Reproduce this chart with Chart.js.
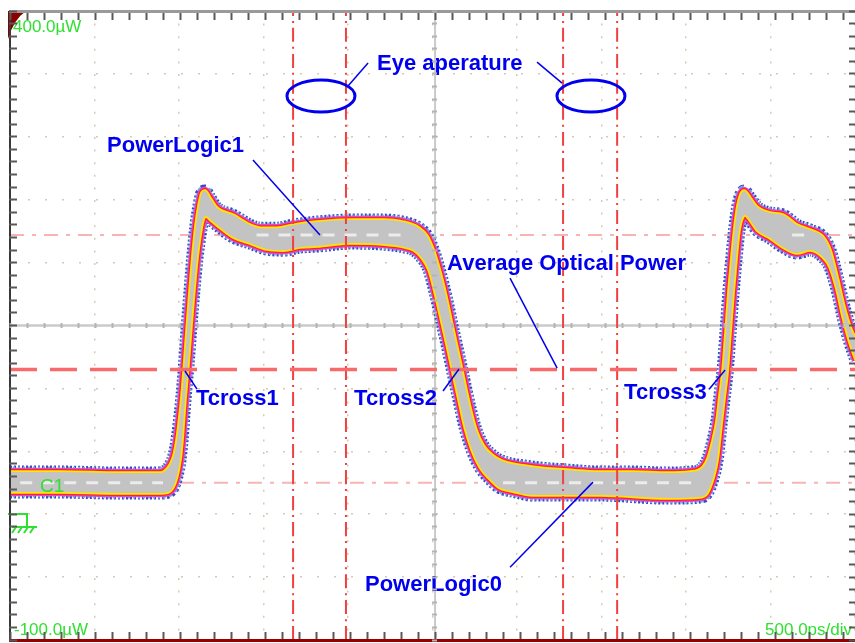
<!DOCTYPE html>
<html>
<head>
<meta charset="utf-8">
<script src="https://cdn.jsdelivr.net/npm/chart.js@4.4.1/dist/chart.umd.min.js"></script>
<style>
  html, body { margin: 0; padding: 0; background: #fff; }
</style>
</head>
<body>
<canvas id="scope" width="855" height="643"></canvas>
<script>
// time axis in ps (500 ps/div), power axis in µW (50 µW/div)
const timeMax = 4970;
const powerMin = -100;
const powerMax = 400;

// grey envelope of the trace: top edge
const upperEdgePs = [0, 294, 647, 882, 912, 941, 965, 982, 1000, 1012, 1024, 1041, 1059, 1076, 1094, 1112, 1129, 1147, 1176, 1218,
  1312, 1412, 1471, 1571, 1665, 1806, 2000, 2194, 2312, 2406, 2453, 2494, 2529, 2565, 2600, 2635, 2670, 2706, 2741, 2782,
  2835, 2894, 3076, 3276, 3471, 3665, 3865, 4000, 4076, 4106, 4135, 4159, 4176, 4194, 4212, 4229, 4247, 4265, 4282, 4300,
  4318, 4353, 4394, 4471, 4547, 4629, 4706, 4782, 4823, 4865, 4900, 4941, 4976];
const upperEdgeUw = [33.5, 33.5, 32.7, 32.7, 34.3, 39.0, 47.0, 58.9, 78.8, 94.7, 114.5, 146.4, 178.2, 206.0, 229.8, 245.7, 255.3, 256.9, 251.3, 243.3,
  237.8, 229.8, 227.4, 227.4, 229.8, 232.2, 233.8, 233.8, 232.2, 227.4, 221.1, 208.4, 192.5, 172.6, 150.3, 128.9, 106.6, 84.3, 66.9, 54.9,
  47.0, 42.2, 37.4, 35.1, 33.5, 33.5, 32.7, 33.5, 37.4, 44.6, 58.9, 74.8, 94.7, 114.6, 146.3, 178.2, 206.0, 229.8, 245.7, 254.5,
  256.9, 251.3, 244.1, 239.4, 237.8, 229.8, 225.9, 220.3, 210.0, 188.5, 167.8, 148.8, 138.4];

// grey envelope of the trace: bottom edge
const lowerEdgePs = [0, 294, 647, 882, 929, 959, 982, 1000, 1012, 1029, 1047, 1065, 1082, 1100, 1118, 1135, 1153, 1176, 1218, 1312,
  1412, 1512, 1606, 1706, 1806, 2000, 2194, 2323, 2376, 2424, 2465, 2500, 2535, 2571, 2606, 2641, 2676, 2718, 2765, 2818,
  2876, 2953, 3076, 3471, 3865, 4059, 4100, 4135, 4159, 4182, 4200, 4218, 4235, 4253, 4271, 4288, 4306, 4324, 4353, 4394,
  4471, 4547, 4629, 4706, 4782, 4823, 4865, 4900, 4941, 4976];
const lowerEdgeUw = [17.6, 17.6, 16.8, 16.8, 17.6, 21.5, 30.3, 43.0, 58.9, 90.7, 118.5, 150.3, 178.2, 203.6, 221.9, 233.8, 237.0, 234.6, 229.8, 220.3,
  215.5, 210.7, 209.9, 212.3, 213.1, 215.5, 214.7, 212.3, 209.9, 203.6, 194.0, 176.6, 155.9, 134.4, 112.2, 90.7, 69.2, 51.0, 37.4, 28.7,
  21.5, 18.4, 15.2, 15.2, 12.8, 13.6, 16.8, 28.7, 43.0, 70.8, 92.3, 113.0, 144.0, 175.8, 203.6, 225.8, 235.4, 237.8, 233.8, 225.9,
  219.5, 212.3, 207.6, 210.0, 204.4, 196.4, 178.1, 156.7, 136.0, 122.5];

// measurement levels (µW) and eye cursors (ps)
const powerLogic1 = 222;
const powerLogic0 = 25;
const averageOpticalPower = 115;
const eyeCursorsPs = [1665, 1976, 3253, 3571];
const centreTimePs = 2500;
const centrePowerUw = 150;

// stretches where the level markers run inside the grey band (ps)
const logic1Spans = [[1450, 2350], [4600, 4720]];
const logic0Spans = [[60, 900], [2900, 4050]];

// callouts: text anchor and leader lines, in ps / µW
const callouts = [
  { text: 'Eye aperature', x: 2159, y: 353, leaders: [[2106, 358.6, 1988, 340.3], [3100, 359.4, 3247, 342.7]] },
  { text: 'PowerLogic1', x: 571, y: 288, leaders: [[1429, 281.5, 1823, 221.9]] },
  { text: 'Average Optical Power', x: 2571, y: 194, leaders: [[2941, 187.7, 3218, 116.1]] },
  { text: 'Tcross1', x: 1094, y: 86.7, leaders: [[1029, 113.8, 1100, 99.4]] },
  { text: 'Tcross2', x: 2024, y: 86.7, leaders: [[2641, 115.4, 2547, 97.9]] },
  { text: 'Tcross3', x: 3612, y: 91.5, leaders: [[4206, 114.6, 4112, 99.4]] },
  { text: 'PowerLogic0', x: 2088, y: -61.1, leaders: [[3429, 25.5, 2941, -42.1]] },
];
const eyeMarks = [[1829, 332.4], [3417, 332.4]];
const eyeMarkRadius = [200, 12.7];

const toPoints = (xs, ys) => xs.map((v, i) => ({ x: v, y: ys[i] }));
const hLine = (y) => [{ x: 0, y }, { x: timeMax, y }];
const vLine = (x) => [{ x, y: powerMin }, { x, y: powerMax }];
const spans = (list, y) => {
  const out = [];
  list.forEach(([a, b]) => { out.push({ x: a, y }, { x: b, y }, { x: b, y: null }); });
  return out;
};

const upperPts = toPoints(upperEdgePs, upperEdgeUw);
const lowerPts = toPoints(lowerEdgePs, lowerEdgeUw);

function line(data, color, width, order, dash, extra) {
  return Object.assign({
    data, borderColor: color, borderWidth: width, order,
    borderDash: dash || [], pointRadius: 0, fill: false, clip: 0,
    cubicInterpolationMode: 'monotone', spanGaps: false,
  }, extra || {});
}

const datasets = [
  // grey body of the trace (filled between the two edges)
  line(upperPts, 'rgba(0,0,0,0)', 0, 50, null, { fill: '+1', backgroundColor: '#c3c3c3' }),
  line(lowerPts, 'rgba(0,0,0,0)', 0, 51),
];
// persistence colours along both edges
[upperPts, lowerPts].forEach((pts) => {
  datasets.push(line(pts, '#4646b8', 13, 90, [2, 2]));
  datasets.push(line(pts, '#46c6ee', 11, 89, [2, 3], { borderDashOffset: 2 }));
  datasets.push(line(pts, '#e444dc', 8.5, 85));
  datasets.push(line(pts, '#ff2424', 6, 80));
  datasets.push(line(pts, '#ffe600', 3.5, 75));
});
// level markers, centre graticule, cursors
datasets.push(line(hLine(powerLogic1), '#f6b4b4', 2, 100, [14, 8, 4, 8]));
datasets.push(line(hLine(powerLogic0), '#f6b4b4', 2, 100, [14, 8, 4, 8]));
datasets.push(line(hLine(centrePowerUw), '#cacaca', 2.5, 98));
datasets.push(line(vLine(centreTimePs), '#cacaca', 2, 98));
datasets.push(line(spans(logic1Spans, powerLogic1), '#ececec', 3, 40, [12, 10]));
datasets.push(line(spans(logic0Spans, powerLogic0), '#ececec', 3, 40, [12, 10]));
eyeCursorsPs.forEach((t) => datasets.push(line(vLine(t), '#f04040', 2, 30, [14, 5, 2, 5])));
datasets.push(line(hLine(averageOpticalPower), '#f86a6a', 3.5, 20, [27, 13]));

const blue = '#0000ee';
const green = '#30e030';

const scopeDecor = {
  id: 'scopeDecor',
  afterDatasetsDraw(chart) {
    const { ctx, chartArea: a, scales: { x, y } } = chart;
    const px = (v) => x.getPixelForValue(v);
    const py = (v) => y.getPixelForValue(v);
    ctx.save();

    // corner marker
    ctx.fillStyle = '#8a0000';
    ctx.beginPath();
    ctx.moveTo(a.left - 2, a.top);
    ctx.lineTo(a.left + 16, a.top);
    ctx.quadraticCurveTo(a.left + 4, a.top + 8, a.left - 2, a.top + 28);
    ctx.closePath();
    ctx.fill();

    // eye aperture ellipses
    ctx.strokeStyle = blue;
    ctx.lineWidth = 3;
    eyeMarks.forEach(([cx, cy]) => {
      const rx = px(cx + eyeMarkRadius[0]) - px(cx);
      const ry = py(cy) - py(cy + eyeMarkRadius[1]);
      ctx.beginPath();
      ctx.ellipse(px(cx), py(cy), rx, ry, 0, 0, Math.PI * 2);
      ctx.stroke();
    });

    // leaders + callout text
    ctx.lineWidth = 1.5;
    ctx.font = 'bold 22px "Liberation Sans", Arial, sans-serif';
    ctx.fillStyle = blue;
    ctx.textBaseline = 'alphabetic';
    callouts.forEach((c) => {
      c.leaders.forEach(([x1, y1, x2, y2]) => {
        ctx.beginPath();
        ctx.moveTo(px(x1), py(y1));
        ctx.lineTo(px(x2), py(y2));
        ctx.stroke();
      });
      ctx.fillText(c.text, px(c.x), py(c.y));
    });

    // scale readouts
    ctx.fillStyle = green;
    ctx.font = '17px "Liberation Sans", Arial, sans-serif';
    ctx.textAlign = 'left';
    ctx.fillText(powerMax.toFixed(1) + 'µW', a.left + 3, a.top + 21);
    ctx.fillText(powerMin.toFixed(1) + 'µW', a.left + 4, a.bottom - 5);
    ctx.textAlign = 'right';
    ctx.fillText('500.0ps/div', a.right - 3, a.bottom - 5);
    ctx.textAlign = 'left';
    ctx.font = '19px "Liberation Sans", Arial, sans-serif';
    ctx.fillText('C1', a.left + 30, py(powerLogic0) + 9);

    // ground reference symbol
    const g = Math.round(py(0));
    ctx.strokeStyle = green;
    ctx.lineWidth = 2;
    ctx.beginPath();
    ctx.moveTo(a.left - 2, g);
    ctx.lineTo(a.left + 17, g);
    ctx.lineTo(a.left + 17, g + 12);
    ctx.moveTo(a.left + 2, g + 13);
    ctx.lineTo(a.left + 27, g + 13);
    for (let k = 0; k < 4; k++) {
      ctx.moveTo(a.left + 6 + k * 6, g + 13);
      ctx.lineTo(a.left + 2 + k * 6, g + 19);
    }
    ctx.stroke();
    ctx.restore();
  },
};

const tickAxis = (axis, position, min, max, step, length, color) => ({
  type: 'linear', axis, position, min, max,
  ticks: { display: false, stepSize: step, includeBounds: false },
  grid: { drawOnChartArea: false, drawTicks: true, tickLength: length, tickColor: color || '#585858', tickWidth: 2, z: 1 },
  border: { display: false },
});

const dotted = '#d6cab6';

new Chart(document.getElementById('scope'), {
  type: 'line',
  data: { datasets },
  options: {
    responsive: false,
    animation: false,
    layout: { padding: { left: 10, top: 11, right: 0, bottom: 3 } },
    plugins: { legend: { display: false }, tooltip: { enabled: false } },
    scales: {
      x: {
        type: 'linear', min: 0, max: timeMax,
        ticks: { display: false, stepSize: 500 },
        grid: { color: dotted, lineWidth: 1.5, drawTicks: false },
        border: { color: '#980000', width: 3, dash: [2, 10.6], z: 1 },
      },
      y: {
        type: 'linear', min: powerMin, max: powerMax,
        ticks: { display: false, stepSize: 50 },
        grid: { color: dotted, lineWidth: 1.5, drawTicks: false },
        border: { color: '#383838', width: 2, dash: [2, 15], z: 1 },
      },
      xTop: Object.assign(tickAxis('x', { y: powerMax }, 0, timeMax, 100, 7),
        { border: { display: true, color: '#9a9a9a', width: 3, z: 1 } }),
      xBottom: tickAxis('x', { y: -93.6 }, 0, timeMax, 100, 7),
      xCentre: tickAxis('x', { y: 152 }, 0, timeMax, 100, 5, '#b4b4b4'),
      yLeft: tickAxis('y', { x: 41 }, powerMin, powerMax, 10, 8),
      yRight: tickAxis('y', { x: timeMax }, powerMin, powerMax, 10, 6),
      yCentre: tickAxis('y', { x: 2512 }, powerMin, powerMax, 10, 5, '#b4b4b4'),
    },
  },
  plugins: [scopeDecor],
});
</script>
</body>
</html>
